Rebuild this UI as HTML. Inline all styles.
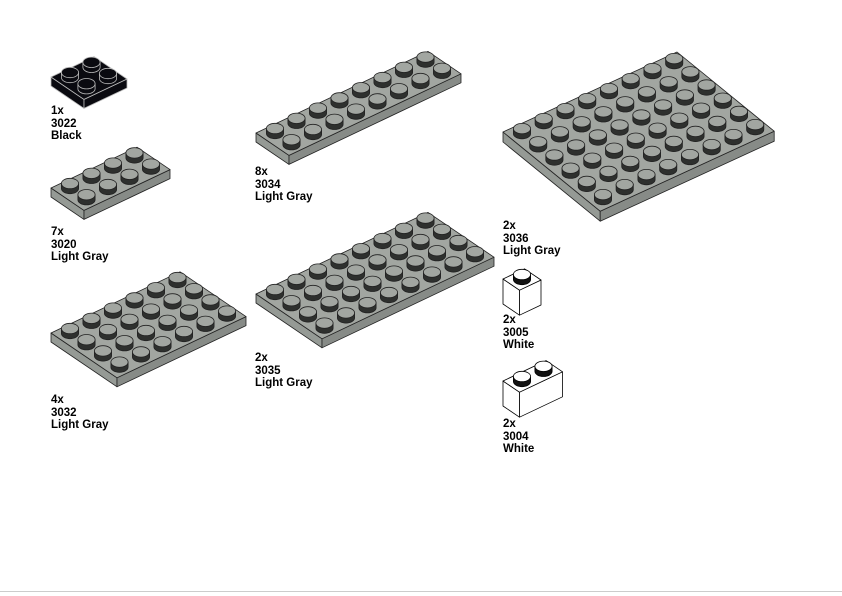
<!DOCTYPE html>
<html><head><meta charset="utf-8">
<style>
html,body{margin:0;padding:0;background:#fff;}
#c{position:relative;width:842px;height:596px;overflow:hidden;}
.l{position:absolute;font:bold 11.5px/12.5px "Liberation Sans",sans-serif;color:#000;}
</style></head><body>
<div id="c">
<svg id="s" width="842" height="596" style="position:absolute;left:0;top:0"></svg>
<div class="l" style="left:51px;top:105px">1x<br>3022<br>Black</div>
<div class="l" style="left:51px;top:226px">7x<br>3020<br>Light Gray</div>
<div class="l" style="left:51px;top:394px">4x<br>3032<br>Light Gray</div>
<div class="l" style="left:255px;top:166px">8x<br>3034<br>Light Gray</div>
<div class="l" style="left:255px;top:352px">2x<br>3035<br>Light Gray</div>
<div class="l" style="left:503px;top:220px">2x<br>3036<br>Light Gray</div>
<div class="l" style="left:503px;top:314px">2x<br>3005<br>White</div>
<div class="l" style="left:503px;top:418px">2x<br>3004<br>White</div>
<div style="position:absolute;left:0;top:591px;width:842px;height:1px;background:#ccc"></div>
</div>
<script>
var s=document.getElementById('s'),out='';
var A=[21.5,-10.2],B=[16.5,11.2];
function P(x,y){return x.toFixed(1)+','+y.toFixed(1);}
function part(lx,ly,n,m,h,top,sl,sr,stud,studTop,stroke){
 var T=[lx+n*A[0],ly+n*A[1]],R=[T[0]+m*B[0],T[1]+m*B[1]],Bo=[lx+m*B[0],ly+m*B[1]];
 out+='<polygon points="'+P(lx,ly)+' '+P(Bo[0],Bo[1])+' '+P(Bo[0],Bo[1]+h)+' '+P(lx,ly+h)+'" fill="'+sl+'" stroke="'+stroke+'" stroke-width="0.8" stroke-linejoin="round"/>';
 out+='<polygon points="'+P(Bo[0],Bo[1])+' '+P(R[0],R[1])+' '+P(R[0],R[1]+h)+' '+P(Bo[0],Bo[1]+h)+'" fill="'+sr+'" stroke="'+stroke+'" stroke-width="0.8" stroke-linejoin="round"/>';
 out+='<polygon points="'+P(lx,ly)+' '+P(T[0],T[1])+' '+P(R[0],R[1])+' '+P(Bo[0],Bo[1])+'" fill="'+top+'" stroke="'+stroke+'" stroke-width="0.8" stroke-linejoin="round"/>';
 var st=[];
 for(var i=0;i<n;i++)for(var j=0;j<m;j++){
  st.push([lx+(i+.5)*A[0]+(j+.5)*B[0],ly+(i+.5)*A[1]+(j+.5)*B[1]]);
 }
 st.sort(function(p,q){return p[1]-q[1];});
 var rx=8.6,ry=5.2,sh=5;
 st.forEach(function(c){
  var x=c[0],y=c[1];
  out+='<path d="M'+P(x-rx,y-sh)+' L'+P(x-rx,y)+' A'+rx+','+ry+' 0 0 0 '+P(x+rx,y)+' L'+P(x+rx,y-sh)+' Z" fill="'+stud+'" stroke="'+stroke+'" stroke-width="0.8"/>';
  out+='<ellipse cx="'+x.toFixed(1)+'" cy="'+(y-sh).toFixed(1)+'" rx="'+rx+'" ry="'+ry+'" fill="'+studTop+'" stroke="'+(studTop=='#0a0a10'?'#bbb':stroke)+'" stroke-width="0.8"/>';
 });
}
var G=['#a2a6a1','#959a95','#878b87','#2e302e','#a2a6a1','#222'];
part(51,77,2,2,9,'#0a0a10','#0a0a10','#0a0a10','#0a0a10','#0a0a10','#bbb');
part(51,188,4,2,9,G[0],G[1],G[2],G[3],G[4],G[5]);
part(51,333,6,4,9,G[0],G[1],G[2],G[3],G[4],G[5]);
part(256,133,8,2,9,G[0],G[1],G[2],G[3],G[4],G[5]);
part(256,294,8,4,9,G[0],G[1],G[2],G[3],G[4],G[5]);
A=[21.75,-10];B=[16.2,13.2];
part(503,132,8,6,10,G[0],G[1],G[2],G[3],G[4],G[5]);
A=[21.5,-10.2];B=[16.5,11.2];
part(503,279,1,1,25,'#fff','#fff','#fff','#111','#fff','#000');
part(503,381,2,1,25,'#fff','#fff','#fff','#111','#fff','#000');
s.innerHTML=out;
</script>
</body></html>
